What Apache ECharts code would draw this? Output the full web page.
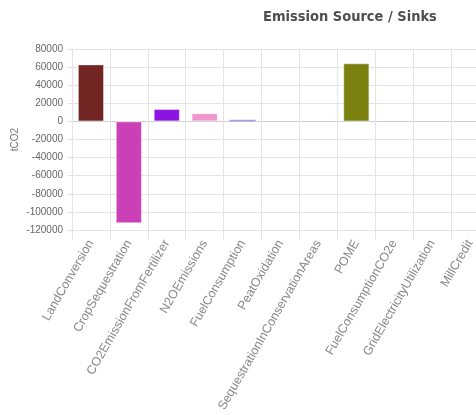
<!DOCTYPE html>
<html>
<head>
<meta charset="utf-8">
<script src="https://cdn.jsdelivr.net/npm/echarts@6/dist/echarts.min.js"></script>
<style>
  html, body { margin: 0; padding: 0; background: #fff; }
  #chart { width: 476px; height: 415px; }
</style>
</head>
<body>
<div id="chart"></div>
<script>
// Emission sources (positive) and sinks (negative), tCO2
const categories = [
  'LandConversion',
  'CropSequestration',
  'CO2EmissionFromFertilizer',
  'N2OEmissions',
  'FuelConsumption',
  'PeatOxidation',
  'SequestrationInConservationAreas',
  'POME',
  'FuelConsumptionCO2e',
  'GridElectricityUtilization',
  'MillCredit'
];
const values = [63000, -112600, 13700, 9000, 1800, 0, 0, 64200, 600, 0, 0];
const barColors = [
  '#722523', '#cb3fb7', '#8b14e0', '#f096cc', '#9aa2e4',
  '#e6a23c', '#3c8dbc', '#7b810e', '#c4dcb8', '#5ab1ef', '#d87a80'
];
const yTicks = { min: -120000, max: 80000, step: 20000 };

const gridGray = '#e4e4e4';
// zero line drawn a little darker than the other horizontal grid lines
const tickCount = (yTicks.max - yTicks.min) / yTicks.step + 1;
const hLineColors = [];
for (let i = 0; i < tickCount; i++) {
  hLineColors.push(yTicks.min + i * yTicks.step === 0 ? '#cfcfcf' : gridGray);
}

const chart = echarts.init(document.getElementById('chart'), null, { renderer: 'canvas' });
chart.setOption({
  animation: false,
  backgroundColor: '#fff',
  title: {
    text: 'Emission Source / Sinks',
    left: 258,
    top: 5,
    textStyle: {
      fontFamily: '"Liberation Sans Narrow", "DejaVu Sans Condensed", "Liberation Sans", sans-serif',
      fontWeight: 'bold',
      fontSize: 14.5,
      color: '#4d4d4d'
    }
  },
  grid: {
    left: 72,
    top: 49,
    bottom: 185,
    right: -13,
    containLabel: false,
    outerBoundsMode: 'none'
  },
  xAxis: {
    type: 'category',
    data: categories,
    boundaryGap: true,
    axisLine: { show: true, onZero: false, lineStyle: { color: gridGray } },
    axisTick: { show: true, length: 10, lineStyle: { color: gridGray } },
    splitLine: { show: true, lineStyle: { color: gridGray, width: 1 } },
    axisLabel: {
      interval: 0,
      rotate: 60,
      margin: 11,
      fontSize: 12.5,
      fontFamily: '"Liberation Sans", Arial, sans-serif',
      color: '#888'
    }
  },
  yAxis: {
    type: 'value',
    min: yTicks.min,
    max: yTicks.max,
    interval: yTicks.step,
    name: 'tCO2',
    nameLocation: 'middle',
    nameRotate: 90,
    nameGap: 52,
    nameMoveOverlap: false,
    nameTextStyle: {
      fontSize: 10,
      fontFamily: '"Liberation Sans", Arial, sans-serif',
      color: '#777'
    },
    axisLine: { show: true, lineStyle: { color: gridGray } },
    axisTick: { show: true, length: 5, lineStyle: { color: gridGray } },
    splitLine: { show: true, lineStyle: { color: hLineColors, width: 1 } },
    axisLabel: {
      margin: 9,
      fontSize: 10,
      fontFamily: '"Liberation Sans", Arial, sans-serif',
      color: '#666',
      formatter: v => String(v)
    }
  },
  series: [{
    type: 'bar',
    barCategoryGap: '31%',
    data: values.map((v, i) => ({
      value: v,
      itemStyle: {
        color: barColors[i],
        // only the larger bars get the faint light outline
        borderColor: 'rgba(255,255,255,0.45)',
        borderWidth: Math.abs(v) > 5000 ? 1 : 0
      }
    }))
  }]
});
</script>
</body>
</html>
